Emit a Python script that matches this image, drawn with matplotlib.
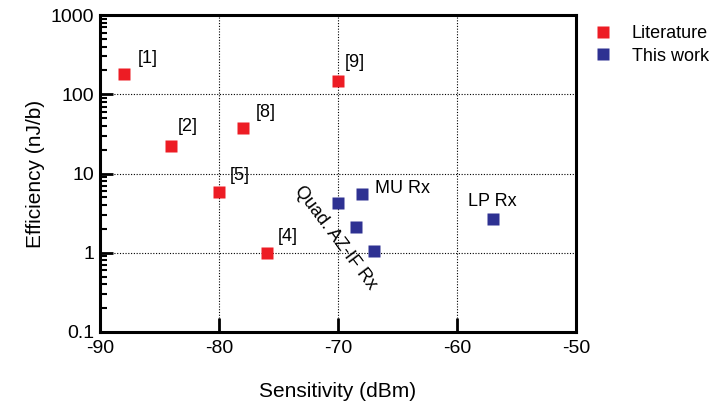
import matplotlib
matplotlib.use("Agg")
import matplotlib.pyplot as plt
from matplotlib.ticker import LogLocator, FixedLocator, NullFormatter
from matplotlib.lines import Line2D

plt.rcParams['font.family'] = ['Liberation Sans', 'DejaVu Sans']

# Literature data
lit_labels = ["[1]", "[2]", "[5]", "[8]", "[4]", "[9]"]
lit_sens = [-88, -84, -80, -78, -76, -70]
lit_eff = [180, 22, 5.8, 38, 1.0, 145]
lit_offsets = [(14, 16), (6, 20), (11, 17), (13, 15), (11, 16), (7, 19)]

# This work data
tw_sens = [-70, -68, -68.5, -67, -57]
tw_eff = [4.3, 5.5, 2.1, 1.06, 2.65]

x_ticks = [-90, -80, -70, -60, -50]
y_ticks = [0.1, 1, 10, 100, 1000]
y_ticklabels = ["0.1", "1", "10", "100", "1000"]

RED = "#ED1C24"
BLUE = "#2E3192"

fig = plt.figure(figsize=(7.11, 4.16), dpi=100)
ax = fig.add_axes([100/711, 1-332/416, 476/711, 317/416])

ax.set_yscale('log')
ax.set_xlim(-90, -50)
ax.set_ylim(0.1, 1000)

ax.plot(lit_sens, lit_eff, 's', color=RED, markersize=8.5, markeredgecolor='none', clip_on=False, zorder=3)
ax.plot(tw_sens, tw_eff, 's', color=BLUE, markersize=8.5, markeredgecolor='none', clip_on=False, zorder=3)

for lab, xs, ys, off in zip(lit_labels, lit_sens, lit_eff, lit_offsets):
    ax.annotate(lab, (xs, ys), xytext=off, textcoords='offset pixels',
                ha='left', va='center', fontsize=13)

ax.annotate("MU Rx", (tw_sens[1], tw_eff[1]), xytext=(13, 6), textcoords='offset pixels',
            ha='left', va='center', fontsize=13)
ax.annotate("LP Rx", (tw_sens[4], tw_eff[4]), xytext=(0, 18), textcoords='offset pixels',
            ha='center', va='center', fontsize=13)
ax.text(-70.25, 1.55, "Quad. AZ-IF Rx", rotation=-53, rotation_mode='anchor',
        ha='center', va='center', fontsize=13)

ax.xaxis.set_major_locator(FixedLocator(x_ticks))
ax.set_xticklabels([str(v) for v in x_ticks])
ax.yaxis.set_major_locator(FixedLocator(y_ticks))
ax.set_yticklabels(y_ticklabels)
ax.yaxis.set_minor_locator(LogLocator(base=10, subs=range(2, 10)))
ax.yaxis.set_minor_formatter(NullFormatter())
ax.xaxis.set_minor_locator(FixedLocator([]))

ax.tick_params(axis='x', which='major', direction='in', length=10, width=2, labelsize=14, pad=6)
ax.tick_params(axis='y', which='major', direction='in', length=9, width=2, labelsize=14, pad=4)
ax.tick_params(axis='y', which='minor', direction='in', length=5, width=1.5)
ax.tick_params(top=False, right=False)

for s in ax.spines.values():
    s.set_linewidth(2.2)

ax.grid(True, which='major', color='black', linestyle=(0, (1, 1.5)), linewidth=0.8)

ax.set_xlabel("Sensitivity (dBm)", fontsize=15, labelpad=18)
ax.set_ylabel("Efficiency (nJ/b)", fontsize=15, labelpad=4)

handles = [Line2D([], [], marker='s', color=RED, linestyle='none', markersize=8.5, markeredgecolor='none'),
           Line2D([], [], marker='s', color=BLUE, linestyle='none', markersize=8.5, markeredgecolor='none')]
fig.legend(handles, ["Literature", "This work"], loc='upper left',
           bbox_to_anchor=(585/711, 1-18/416), frameon=False, fontsize=13,
           handlelength=1.2, handletextpad=1.0, labelspacing=0.3, borderaxespad=0)

fig.savefig("out.png", dpi=100)
